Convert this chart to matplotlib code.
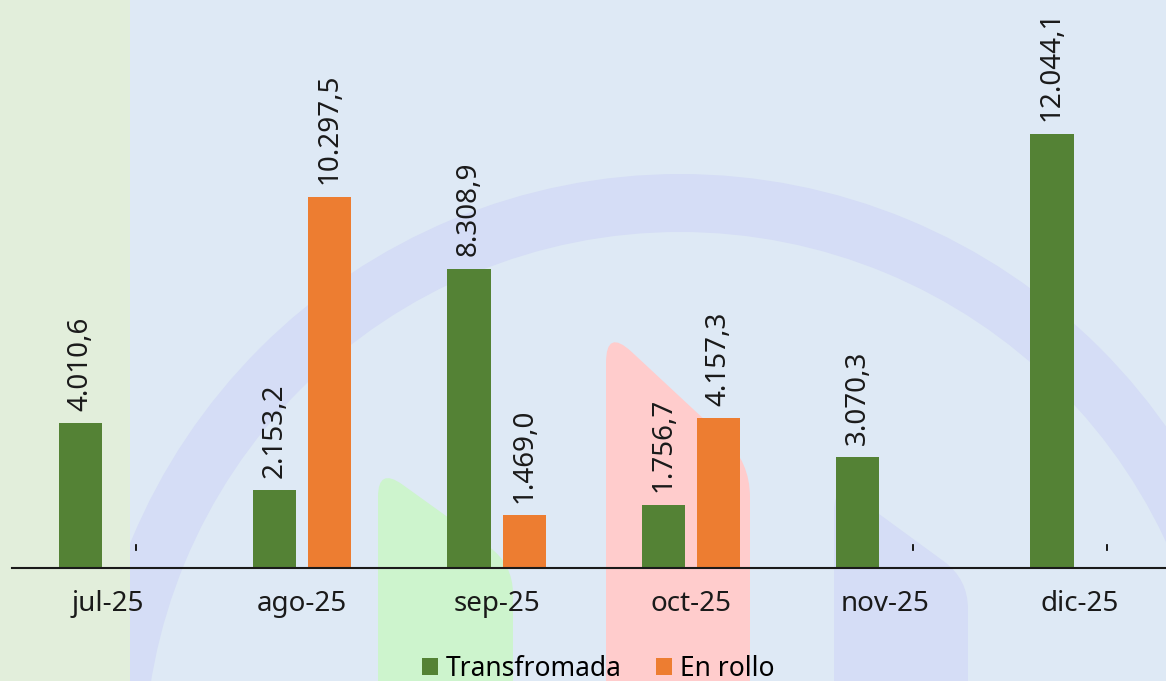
import numpy as np
import matplotlib
matplotlib.use("Agg")
import matplotlib.pyplot as plt
from matplotlib.patches import Rectangle, Wedge, PathPatch
from matplotlib.path import Path

plt.rcParams['font.family'] = ['Noto Sans', 'DejaVu Sans']

months = ['jul-25', 'ago-25', 'sep-25', 'oct-25', 'nov-25', 'dic-25']
transformada = [4010.6, 2153.2, 8308.9, 1756.7, 3070.3, 12044.1]
en_rollo = [0.0, 10297.5, 1469.0, 4157.3, 0.0, 0.0]

GREEN = '#548235'
ORANGE = '#ED7D31'
BG = '#dee9f5'


def fmt(v):
    if v == 0:
        return '-'
    s = f'{v:,.1f}'
    return s.replace(',', 'X').replace('.', ',').replace('X', '.')


def tab(L, R, ty, ry, d1, d2, bottom=720):
    # rounded "tab" shape in pixel coords (y down)
    s = (ry - ty) / (R - L)
    n = np.hypot(1, s)
    ux, uy = 1 / n, s / n
    verts = [(L, bottom), (L, ty + d1), (L, ty), (L + d1 * ux, ty + d1 * uy),
             (R - d2 * ux, ry - d2 * uy), (R, ry), (R, ry + d2),
             (R, bottom), (L, bottom)]
    codes = [Path.MOVETO, Path.LINETO, Path.CURVE3, Path.CURVE3,
             Path.LINETO, Path.CURVE3, Path.CURVE3, Path.LINETO, Path.CLOSEPOLY]
    return Path(verts, codes)


W, H = 1166, 681
fig = plt.figure(figsize=(W / 100, H / 100), dpi=100)
fig.patch.set_facecolor(BG)

# background decoration
bg = fig.add_axes([0, 0, 1, 1], zorder=0)
bg.set_xlim(0, W)
bg.set_ylim(H, 0)
bg.axis('off')
bg.add_patch(Wedge((680, 768), 594, 0, 360, width=58, color='#d5ddf6', lw=0))
bg.add_patch(Rectangle((0, 0), 130, H, color='#e2eedb', lw=0))
bg.add_patch(PathPatch(tab(378, 513, 467, 564, 30, 30), color='#cdf4cd', lw=0))
bg.add_patch(PathPatch(tab(606, 750, 328, 462, 35, 35), color='#ffcccc', lw=0))
bg.add_patch(PathPatch(tab(834, 968, 481, 579, 30, 30), color='#d5ddf6', lw=0))

ax = fig.add_axes([12 / W, (H - 568) / H, (W - 12) / W, 568 / H], zorder=1)
ax.set_facecolor('none')

x = np.arange(len(months))
w = 0.222
off = 0.1418
b1 = ax.bar(x - off, transformada, w, color=GREEN, label='Transfromada')
b2 = ax.bar(x + off, en_rollo, w, color=ORANGE, label='En rollo')

for bars, vals in ((b1, transformada), (b2, en_rollo)):
    for rect, v in zip(bars, vals):
        ax.annotate(fmt(v), (rect.get_x() + rect.get_width() / 2, v),
                    xytext=(0, 9 if v else 13), textcoords='offset points',
                    ha='center', va='bottom', rotation=90,
                    fontsize=20, color='#1a1a1a')

ax.set_xlim(-0.494, 5.445)
ax.set_ylim(0, 15760)
ax.set_xticks(x)
ax.set_xticklabels(months, fontsize=20, color='#1a1a1a')
ax.tick_params(axis='x', length=0, pad=16)
ax.set_yticks([])
for sp in ['top', 'right', 'left']:
    ax.spines[sp].set_visible(False)
ax.spines['bottom'].set_linewidth(1.5)
ax.spines['bottom'].set_color('#1a1a1a')

fig.legend(loc='center', bbox_to_anchor=(0.513, 0.018), ncol=2, frameon=False,
           fontsize=19, handlelength=0.6, handleheight=0.6,
           handletextpad=0.3, columnspacing=1.3, borderpad=0)

fig.savefig('out.png', dpi=100, facecolor=BG)
